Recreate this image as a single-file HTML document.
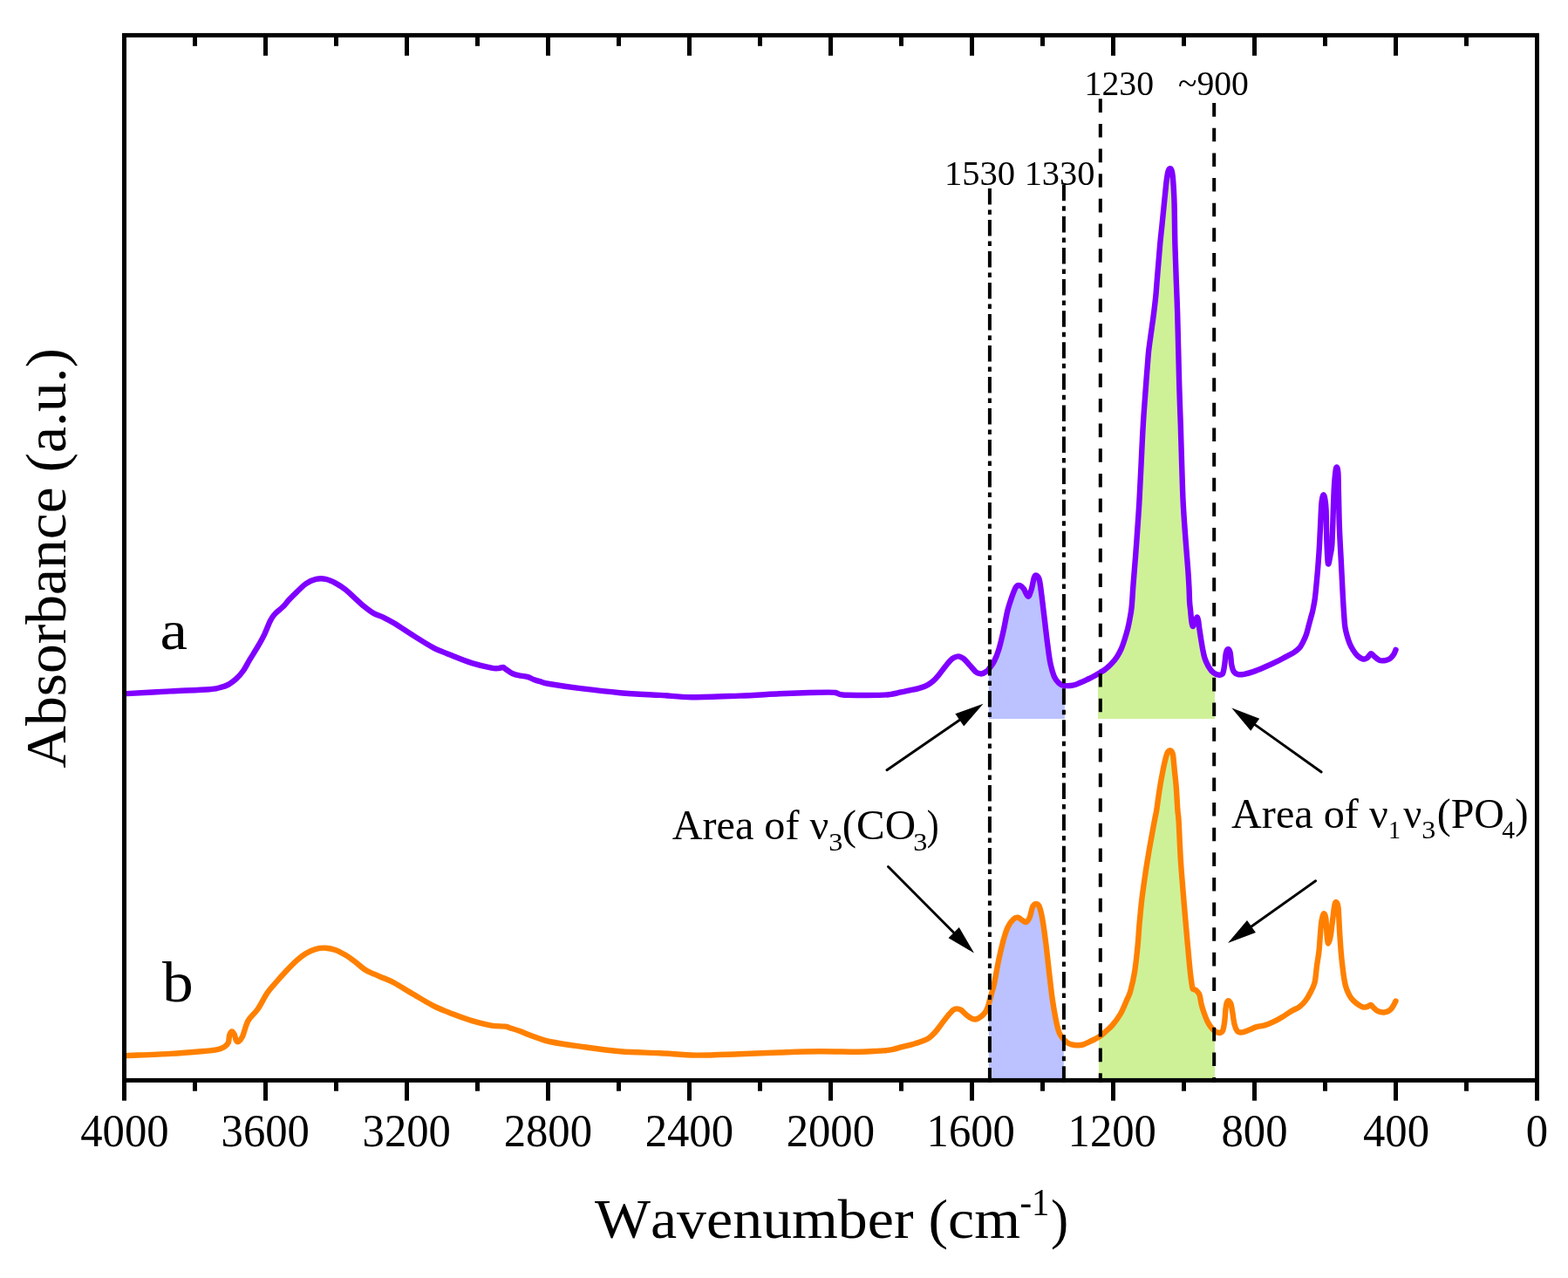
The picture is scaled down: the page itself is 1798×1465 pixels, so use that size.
<!DOCTYPE html>
<html><head><meta charset="utf-8"><title>FTIR spectra</title>
<style>
html,body{margin:0;padding:0;background:#fff;}
svg{display:block;}
text{font-family:"Liberation Serif",serif;fill:#000;font-kerning:none;}
</style></head>
<body>
<svg width="1798" height="1465" viewBox="0 0 1798 1465">
<rect width="1798" height="1465" fill="#fff"/>
<defs>
<clipPath id="cpb1"><rect x="1133.8" y="0" width="87.1" height="824"/></clipPath>
<clipPath id="cpg1"><rect x="1259" y="0" width="134" height="824"/></clipPath>
<clipPath id="cpb2"><rect x="1133.8" y="0" width="86" height="1238"/></clipPath>
<clipPath id="cpg2"><rect x="1260" y="0" width="133" height="1238"/></clipPath>
</defs>
<g stroke="none">
<path d="M145.0,795.1 C153.4,794.6 179.8,793.2 195.6,792.4 C211.4,791.6 230.8,790.9 240.0,790.2 C249.2,789.6 247.4,789.4 251.1,788.5 C254.8,787.6 258.9,786.4 262.2,784.6 C265.5,782.8 268.3,780.5 271.1,777.9 C273.9,775.3 276.3,772.7 278.9,769.0 C281.5,765.3 283.9,760.3 286.7,755.7 C289.5,751.1 292.8,746.0 295.6,741.2 C298.4,736.4 301.0,731.8 303.4,726.8 C305.8,721.8 308.1,715.1 310.1,711.2 C312.1,707.3 313.2,706.0 315.6,703.4 C318.0,700.8 321.9,698.2 324.5,695.6 C327.1,693.0 328.6,690.6 331.2,687.8 C333.8,685.0 336.8,682.0 340.1,678.9 C343.4,675.8 347.5,671.4 351.2,668.9 C354.9,666.4 358.7,664.7 362.4,663.9 C366.1,663.1 369.8,663.1 373.5,663.9 C377.2,664.6 380.9,666.4 384.6,668.4 C388.3,670.4 392.0,672.7 395.7,675.6 C399.4,678.5 403.2,682.3 406.9,685.6 C410.6,688.9 414.3,692.6 418.0,695.6 C421.7,698.6 425.4,701.4 429.1,703.4 C432.8,705.4 436.1,706.0 440.0,707.9 C443.9,709.8 446.4,711.0 452.2,714.5 C457.9,718.0 467.1,724.3 474.5,728.9 C481.9,733.5 489.3,738.5 496.7,742.3 C504.1,746.1 511.6,748.7 519.0,751.7 C526.4,754.7 533.8,757.8 541.2,760.1 C548.6,762.4 558.4,764.6 563.5,765.6 C568.6,766.6 569.8,766.1 572.0,766.0 C574.2,765.9 575.4,764.8 576.8,765.0 C578.2,765.2 578.6,766.3 580.5,767.5 C582.4,768.7 585.2,771.1 588.0,772.3 C590.8,773.5 594.0,774.0 597.0,774.6 C600.0,775.2 603.2,775.5 605.7,776.2 C608.2,776.9 609.8,778.2 612.0,779.0 C614.2,779.8 616.1,780.4 619.1,781.2 C622.1,782.0 622.2,782.7 630.0,784.0 C637.8,785.3 652.1,787.5 665.6,789.2 C679.1,790.9 696.0,792.9 711.2,794.2 C726.4,795.5 743.1,796.1 756.8,796.9 C770.5,797.7 778.1,799.1 793.3,799.2 C808.5,799.3 831.3,798.2 848.0,797.6 C864.7,797.0 880.4,795.9 893.7,795.3 C907.0,794.7 918.5,794.3 927.9,794.0 C937.3,793.7 945.0,793.6 950.0,793.6 C955.0,793.6 955.8,793.6 958.0,794.0 C960.2,794.4 960.8,795.3 963.0,795.8 C965.2,796.2 963.8,796.5 971.2,796.7 C978.7,796.9 999.6,797.0 1007.7,796.9 C1015.8,796.8 1015.7,796.7 1020.0,796.1 C1024.3,795.5 1029.0,794.3 1033.4,793.4 C1037.9,792.5 1042.8,791.6 1046.7,790.7 C1050.6,789.8 1053.9,789.0 1056.7,788.1 C1059.5,787.2 1061.2,786.6 1063.4,785.4 C1065.6,784.2 1067.9,782.7 1070.1,780.7 C1072.3,778.7 1074.5,776.1 1076.7,773.4 C1078.9,770.7 1081.2,767.5 1083.4,764.7 C1085.6,761.9 1088.2,758.6 1090.1,756.7 C1091.9,754.9 1093.0,754.3 1094.5,753.6 C1096.0,752.9 1097.5,752.4 1098.8,752.4 C1100.0,752.4 1100.9,752.9 1102.0,753.4 C1103.1,753.9 1103.7,753.8 1105.4,755.4 C1107.1,757.0 1109.9,760.2 1112.1,762.7 C1114.3,765.2 1117.1,768.6 1118.8,770.1 C1120.5,771.6 1120.9,771.4 1122.0,771.8 C1123.1,772.2 1124.2,772.6 1125.5,772.4 C1126.8,772.2 1128.2,771.5 1129.5,770.7 C1130.8,769.9 1131.8,769.5 1133.5,767.4 C1135.2,765.3 1138.0,761.9 1140.0,758.0 C1142.0,754.1 1143.7,749.8 1145.5,743.8 C1147.3,737.8 1149.3,729.2 1150.9,721.9 C1152.5,714.6 1153.8,706.1 1155.3,700.1 C1156.8,694.1 1158.1,690.5 1159.7,685.9 C1161.3,681.3 1163.5,675.3 1165.1,672.8 C1166.7,670.3 1168.0,670.7 1169.5,671.1 C1171.0,671.5 1172.4,672.9 1173.9,675.0 C1175.5,677.1 1177.3,683.5 1178.8,683.7 C1180.2,683.9 1181.4,679.6 1182.6,676.0 C1183.8,672.4 1184.9,664.5 1185.9,661.8 C1186.9,659.1 1187.6,659.2 1188.6,659.7 C1189.6,660.2 1190.9,661.1 1191.9,665.1 C1192.9,669.1 1193.6,676.1 1194.6,683.7 C1195.6,691.4 1196.8,701.9 1197.9,711.0 C1199.0,720.1 1200.1,730.1 1201.2,738.3 C1202.3,746.5 1203.1,753.9 1204.4,760.1 C1205.7,766.3 1207.2,771.6 1208.8,775.4 C1210.4,779.2 1212.5,781.4 1214.3,783.1 C1216.1,784.8 1217.1,785.4 1219.7,785.8 C1222.3,786.2 1226.9,786.2 1230.0,785.7 C1233.1,785.2 1235.5,783.9 1238.2,782.8 C1240.9,781.7 1243.7,780.4 1246.4,779.1 C1249.1,777.8 1252.1,776.4 1254.6,775.0 C1257.1,773.6 1259.5,772.1 1261.5,770.9 C1263.5,769.7 1264.8,769.2 1266.9,767.6 C1269.0,766.0 1271.9,763.6 1274.2,761.1 C1276.5,758.6 1278.9,755.8 1280.8,752.9 C1282.7,750.0 1284.2,747.3 1285.7,743.9 C1287.2,740.5 1288.6,736.2 1289.8,732.4 C1291.0,728.6 1292.1,724.8 1293.1,721.0 C1294.0,717.2 1294.8,713.6 1295.5,709.5 C1296.2,705.4 1296.9,703.0 1297.6,696.4 C1298.3,689.8 1298.8,678.6 1299.5,670.0 C1300.2,661.4 1300.8,653.6 1301.5,645.0 C1302.2,636.4 1302.7,630.1 1303.5,618.4 C1304.3,606.7 1305.6,589.2 1306.4,574.7 C1307.2,560.2 1307.9,545.7 1308.6,531.1 C1309.3,516.5 1310.0,500.2 1310.8,487.4 C1311.5,474.6 1312.5,462.7 1313.1,454.2 C1313.7,445.7 1314.0,442.3 1314.4,436.4 C1314.9,430.5 1315.3,424.6 1315.8,418.7 C1316.3,412.8 1316.6,406.9 1317.3,401.0 C1318.0,395.1 1318.9,389.1 1319.7,383.2 C1320.5,377.3 1321.4,371.4 1322.2,365.5 C1323.0,359.6 1323.9,352.2 1324.4,347.7 C1324.9,343.2 1325.0,342.6 1325.4,338.3 C1325.8,334.0 1326.2,328.0 1326.7,321.9 C1327.2,315.8 1327.8,308.2 1328.4,301.4 C1329.0,294.6 1329.5,287.8 1330.1,281.0 C1330.7,274.2 1331.4,268.2 1332.2,260.5 C1333.0,252.8 1334.0,242.5 1334.8,234.6 C1335.6,226.7 1336.4,218.3 1337.0,212.8 C1337.6,207.3 1337.9,204.7 1338.4,201.8 C1338.9,198.9 1339.2,196.9 1339.8,195.5 C1340.4,194.1 1341.2,193.3 1341.8,193.3 C1342.4,193.3 1343.1,194.1 1343.6,195.5 C1344.1,196.9 1344.4,198.9 1344.7,201.8 C1345.0,204.7 1345.3,207.3 1345.6,212.8 C1345.9,218.3 1346.3,223.2 1346.6,234.6 C1346.9,246.0 1347.0,266.4 1347.4,281.0 C1347.8,295.6 1348.3,308.7 1348.8,321.9 C1349.3,335.1 1349.8,347.0 1350.2,360.0 C1350.6,373.0 1350.9,386.1 1351.2,400.0 C1351.5,413.9 1351.9,429.1 1352.3,443.7 C1352.7,458.3 1353.3,472.8 1353.8,487.4 C1354.3,502.0 1354.6,516.5 1355.1,531.1 C1355.6,545.7 1355.9,560.2 1356.6,574.7 C1357.3,589.2 1358.6,605.9 1359.5,618.4 C1360.4,630.9 1361.3,641.1 1362.0,650.0 C1362.7,658.9 1363.1,665.3 1363.4,672.0 C1363.8,678.7 1363.8,685.4 1364.1,690.0 C1364.4,694.6 1364.7,695.9 1365.1,699.7 C1365.5,703.5 1365.9,709.7 1366.4,712.7 C1366.9,715.8 1367.4,718.0 1368.0,718.0 C1368.6,718.0 1369.2,714.8 1370.0,713.0 C1370.8,711.2 1371.8,707.7 1372.5,707.5 C1373.2,707.3 1373.8,710.0 1374.2,712.0 C1374.6,714.0 1374.6,715.8 1375.1,719.2 C1375.6,722.6 1376.4,727.9 1377.1,732.2 C1377.8,736.5 1378.5,741.4 1379.3,745.2 C1380.0,749.0 1380.5,751.7 1381.6,754.9 C1382.7,758.1 1384.5,761.9 1386.1,764.6 C1387.7,767.3 1389.4,769.6 1391.3,771.1 C1393.2,772.6 1395.5,773.4 1397.2,773.7 C1398.9,774.0 1400.5,773.6 1401.5,772.8 C1402.5,772.0 1402.5,770.9 1403.0,769.0 C1403.5,767.1 1403.8,764.8 1404.3,761.4 C1404.8,758.0 1405.2,751.2 1405.9,748.4 C1406.6,745.5 1407.4,744.4 1408.2,744.3 C1409.0,744.1 1410.0,745.7 1410.5,747.5 C1411.0,749.3 1411.2,752.7 1411.5,755.0 C1411.8,757.3 1411.6,758.9 1412.1,761.4 C1412.6,763.9 1413.4,767.8 1414.7,769.8 C1416.0,771.8 1417.9,772.6 1419.9,773.1 C1421.9,773.6 1423.9,773.3 1426.7,772.8 C1429.5,772.3 1432.8,771.4 1436.7,770.1 C1440.6,768.8 1445.5,766.7 1450.0,764.8 C1454.5,762.9 1459.5,760.6 1463.4,758.7 C1467.3,756.8 1470.1,755.2 1473.4,753.4 C1476.7,751.6 1480.6,749.9 1483.4,748.1 C1486.2,746.3 1488.2,744.9 1490.1,742.7 C1492.0,740.5 1493.5,737.4 1494.8,734.7 C1496.1,732.0 1497.1,729.7 1498.1,726.7 C1499.1,723.7 1499.9,720.0 1500.8,716.7 C1501.7,713.4 1502.7,709.7 1503.5,706.7 C1504.3,703.8 1504.8,702.7 1505.5,699.0 C1506.2,695.3 1507.2,691.4 1508.0,684.6 C1508.8,677.8 1509.8,666.9 1510.6,658.0 C1511.4,649.1 1512.0,640.3 1512.6,631.4 C1513.2,622.5 1513.5,613.7 1514.0,604.8 C1514.5,595.9 1514.8,584.4 1515.3,578.2 C1515.8,572.0 1516.6,568.5 1517.3,567.5 C1518.0,566.5 1518.8,569.1 1519.3,572.0 C1519.8,574.9 1520.3,577.2 1520.6,584.9 C1520.9,592.6 1520.9,607.9 1521.3,618.1 C1521.7,628.3 1522.2,643.0 1522.9,646.0 C1523.6,649.0 1524.8,639.5 1525.5,636.0 C1526.2,632.5 1526.8,632.2 1527.3,624.8 C1527.8,617.4 1528.2,602.6 1528.6,591.5 C1529.0,580.4 1529.4,566.9 1529.9,558.3 C1530.4,549.7 1531.0,543.8 1531.5,540.0 C1532.0,536.2 1532.5,535.2 1533.0,535.5 C1533.5,535.8 1534.1,537.1 1534.4,542.0 C1534.7,546.9 1534.7,554.4 1534.9,564.9 C1535.2,575.4 1535.4,591.5 1535.9,604.8 C1536.4,618.1 1537.2,631.4 1537.9,644.7 C1538.6,658.0 1539.3,673.8 1539.9,684.6 C1540.5,695.4 1541.1,703.9 1541.5,709.6 C1541.9,715.4 1541.9,715.9 1542.4,719.1 C1542.9,722.3 1543.7,725.5 1544.6,728.7 C1545.5,731.9 1546.7,735.4 1547.9,738.2 C1549.1,741.0 1550.3,743.2 1551.7,745.4 C1553.1,747.6 1554.7,749.9 1556.5,751.6 C1558.3,753.3 1561.1,754.8 1562.7,755.4 C1564.3,756.0 1565.0,755.3 1566.0,755.0 C1567.0,754.7 1567.4,754.5 1568.4,753.5 C1569.4,752.5 1570.9,749.8 1571.8,749.3 C1572.7,748.8 1573.3,750.0 1574.0,750.5 C1574.7,751.0 1574.8,751.5 1576.1,752.6 C1577.4,753.7 1580.0,756.1 1581.8,756.9 C1583.5,757.7 1585.1,757.4 1586.6,757.3 C1588.0,757.2 1589.3,756.9 1590.5,756.5 C1591.7,756.1 1592.5,756.0 1593.8,755.0 C1595.1,754.0 1597.0,751.9 1598.1,750.2 C1599.2,748.5 1600.1,745.8 1600.5,744.9 L1600.3,824 L142.8,824 Z" fill="#BBC2FF" clip-path="url(#cpb1)"/>
<path d="M145.0,795.1 C153.4,794.6 179.8,793.2 195.6,792.4 C211.4,791.6 230.8,790.9 240.0,790.2 C249.2,789.6 247.4,789.4 251.1,788.5 C254.8,787.6 258.9,786.4 262.2,784.6 C265.5,782.8 268.3,780.5 271.1,777.9 C273.9,775.3 276.3,772.7 278.9,769.0 C281.5,765.3 283.9,760.3 286.7,755.7 C289.5,751.1 292.8,746.0 295.6,741.2 C298.4,736.4 301.0,731.8 303.4,726.8 C305.8,721.8 308.1,715.1 310.1,711.2 C312.1,707.3 313.2,706.0 315.6,703.4 C318.0,700.8 321.9,698.2 324.5,695.6 C327.1,693.0 328.6,690.6 331.2,687.8 C333.8,685.0 336.8,682.0 340.1,678.9 C343.4,675.8 347.5,671.4 351.2,668.9 C354.9,666.4 358.7,664.7 362.4,663.9 C366.1,663.1 369.8,663.1 373.5,663.9 C377.2,664.6 380.9,666.4 384.6,668.4 C388.3,670.4 392.0,672.7 395.7,675.6 C399.4,678.5 403.2,682.3 406.9,685.6 C410.6,688.9 414.3,692.6 418.0,695.6 C421.7,698.6 425.4,701.4 429.1,703.4 C432.8,705.4 436.1,706.0 440.0,707.9 C443.9,709.8 446.4,711.0 452.2,714.5 C457.9,718.0 467.1,724.3 474.5,728.9 C481.9,733.5 489.3,738.5 496.7,742.3 C504.1,746.1 511.6,748.7 519.0,751.7 C526.4,754.7 533.8,757.8 541.2,760.1 C548.6,762.4 558.4,764.6 563.5,765.6 C568.6,766.6 569.8,766.1 572.0,766.0 C574.2,765.9 575.4,764.8 576.8,765.0 C578.2,765.2 578.6,766.3 580.5,767.5 C582.4,768.7 585.2,771.1 588.0,772.3 C590.8,773.5 594.0,774.0 597.0,774.6 C600.0,775.2 603.2,775.5 605.7,776.2 C608.2,776.9 609.8,778.2 612.0,779.0 C614.2,779.8 616.1,780.4 619.1,781.2 C622.1,782.0 622.2,782.7 630.0,784.0 C637.8,785.3 652.1,787.5 665.6,789.2 C679.1,790.9 696.0,792.9 711.2,794.2 C726.4,795.5 743.1,796.1 756.8,796.9 C770.5,797.7 778.1,799.1 793.3,799.2 C808.5,799.3 831.3,798.2 848.0,797.6 C864.7,797.0 880.4,795.9 893.7,795.3 C907.0,794.7 918.5,794.3 927.9,794.0 C937.3,793.7 945.0,793.6 950.0,793.6 C955.0,793.6 955.8,793.6 958.0,794.0 C960.2,794.4 960.8,795.3 963.0,795.8 C965.2,796.2 963.8,796.5 971.2,796.7 C978.7,796.9 999.6,797.0 1007.7,796.9 C1015.8,796.8 1015.7,796.7 1020.0,796.1 C1024.3,795.5 1029.0,794.3 1033.4,793.4 C1037.9,792.5 1042.8,791.6 1046.7,790.7 C1050.6,789.8 1053.9,789.0 1056.7,788.1 C1059.5,787.2 1061.2,786.6 1063.4,785.4 C1065.6,784.2 1067.9,782.7 1070.1,780.7 C1072.3,778.7 1074.5,776.1 1076.7,773.4 C1078.9,770.7 1081.2,767.5 1083.4,764.7 C1085.6,761.9 1088.2,758.6 1090.1,756.7 C1091.9,754.9 1093.0,754.3 1094.5,753.6 C1096.0,752.9 1097.5,752.4 1098.8,752.4 C1100.0,752.4 1100.9,752.9 1102.0,753.4 C1103.1,753.9 1103.7,753.8 1105.4,755.4 C1107.1,757.0 1109.9,760.2 1112.1,762.7 C1114.3,765.2 1117.1,768.6 1118.8,770.1 C1120.5,771.6 1120.9,771.4 1122.0,771.8 C1123.1,772.2 1124.2,772.6 1125.5,772.4 C1126.8,772.2 1128.2,771.5 1129.5,770.7 C1130.8,769.9 1131.8,769.5 1133.5,767.4 C1135.2,765.3 1138.0,761.9 1140.0,758.0 C1142.0,754.1 1143.7,749.8 1145.5,743.8 C1147.3,737.8 1149.3,729.2 1150.9,721.9 C1152.5,714.6 1153.8,706.1 1155.3,700.1 C1156.8,694.1 1158.1,690.5 1159.7,685.9 C1161.3,681.3 1163.5,675.3 1165.1,672.8 C1166.7,670.3 1168.0,670.7 1169.5,671.1 C1171.0,671.5 1172.4,672.9 1173.9,675.0 C1175.5,677.1 1177.3,683.5 1178.8,683.7 C1180.2,683.9 1181.4,679.6 1182.6,676.0 C1183.8,672.4 1184.9,664.5 1185.9,661.8 C1186.9,659.1 1187.6,659.2 1188.6,659.7 C1189.6,660.2 1190.9,661.1 1191.9,665.1 C1192.9,669.1 1193.6,676.1 1194.6,683.7 C1195.6,691.4 1196.8,701.9 1197.9,711.0 C1199.0,720.1 1200.1,730.1 1201.2,738.3 C1202.3,746.5 1203.1,753.9 1204.4,760.1 C1205.7,766.3 1207.2,771.6 1208.8,775.4 C1210.4,779.2 1212.5,781.4 1214.3,783.1 C1216.1,784.8 1217.1,785.4 1219.7,785.8 C1222.3,786.2 1226.9,786.2 1230.0,785.7 C1233.1,785.2 1235.5,783.9 1238.2,782.8 C1240.9,781.7 1243.7,780.4 1246.4,779.1 C1249.1,777.8 1252.1,776.4 1254.6,775.0 C1257.1,773.6 1259.5,772.1 1261.5,770.9 C1263.5,769.7 1264.8,769.2 1266.9,767.6 C1269.0,766.0 1271.9,763.6 1274.2,761.1 C1276.5,758.6 1278.9,755.8 1280.8,752.9 C1282.7,750.0 1284.2,747.3 1285.7,743.9 C1287.2,740.5 1288.6,736.2 1289.8,732.4 C1291.0,728.6 1292.1,724.8 1293.1,721.0 C1294.0,717.2 1294.8,713.6 1295.5,709.5 C1296.2,705.4 1296.9,703.0 1297.6,696.4 C1298.3,689.8 1298.8,678.6 1299.5,670.0 C1300.2,661.4 1300.8,653.6 1301.5,645.0 C1302.2,636.4 1302.7,630.1 1303.5,618.4 C1304.3,606.7 1305.6,589.2 1306.4,574.7 C1307.2,560.2 1307.9,545.7 1308.6,531.1 C1309.3,516.5 1310.0,500.2 1310.8,487.4 C1311.5,474.6 1312.5,462.7 1313.1,454.2 C1313.7,445.7 1314.0,442.3 1314.4,436.4 C1314.9,430.5 1315.3,424.6 1315.8,418.7 C1316.3,412.8 1316.6,406.9 1317.3,401.0 C1318.0,395.1 1318.9,389.1 1319.7,383.2 C1320.5,377.3 1321.4,371.4 1322.2,365.5 C1323.0,359.6 1323.9,352.2 1324.4,347.7 C1324.9,343.2 1325.0,342.6 1325.4,338.3 C1325.8,334.0 1326.2,328.0 1326.7,321.9 C1327.2,315.8 1327.8,308.2 1328.4,301.4 C1329.0,294.6 1329.5,287.8 1330.1,281.0 C1330.7,274.2 1331.4,268.2 1332.2,260.5 C1333.0,252.8 1334.0,242.5 1334.8,234.6 C1335.6,226.7 1336.4,218.3 1337.0,212.8 C1337.6,207.3 1337.9,204.7 1338.4,201.8 C1338.9,198.9 1339.2,196.9 1339.8,195.5 C1340.4,194.1 1341.2,193.3 1341.8,193.3 C1342.4,193.3 1343.1,194.1 1343.6,195.5 C1344.1,196.9 1344.4,198.9 1344.7,201.8 C1345.0,204.7 1345.3,207.3 1345.6,212.8 C1345.9,218.3 1346.3,223.2 1346.6,234.6 C1346.9,246.0 1347.0,266.4 1347.4,281.0 C1347.8,295.6 1348.3,308.7 1348.8,321.9 C1349.3,335.1 1349.8,347.0 1350.2,360.0 C1350.6,373.0 1350.9,386.1 1351.2,400.0 C1351.5,413.9 1351.9,429.1 1352.3,443.7 C1352.7,458.3 1353.3,472.8 1353.8,487.4 C1354.3,502.0 1354.6,516.5 1355.1,531.1 C1355.6,545.7 1355.9,560.2 1356.6,574.7 C1357.3,589.2 1358.6,605.9 1359.5,618.4 C1360.4,630.9 1361.3,641.1 1362.0,650.0 C1362.7,658.9 1363.1,665.3 1363.4,672.0 C1363.8,678.7 1363.8,685.4 1364.1,690.0 C1364.4,694.6 1364.7,695.9 1365.1,699.7 C1365.5,703.5 1365.9,709.7 1366.4,712.7 C1366.9,715.8 1367.4,718.0 1368.0,718.0 C1368.6,718.0 1369.2,714.8 1370.0,713.0 C1370.8,711.2 1371.8,707.7 1372.5,707.5 C1373.2,707.3 1373.8,710.0 1374.2,712.0 C1374.6,714.0 1374.6,715.8 1375.1,719.2 C1375.6,722.6 1376.4,727.9 1377.1,732.2 C1377.8,736.5 1378.5,741.4 1379.3,745.2 C1380.0,749.0 1380.5,751.7 1381.6,754.9 C1382.7,758.1 1384.5,761.9 1386.1,764.6 C1387.7,767.3 1389.4,769.6 1391.3,771.1 C1393.2,772.6 1395.5,773.4 1397.2,773.7 C1398.9,774.0 1400.5,773.6 1401.5,772.8 C1402.5,772.0 1402.5,770.9 1403.0,769.0 C1403.5,767.1 1403.8,764.8 1404.3,761.4 C1404.8,758.0 1405.2,751.2 1405.9,748.4 C1406.6,745.5 1407.4,744.4 1408.2,744.3 C1409.0,744.1 1410.0,745.7 1410.5,747.5 C1411.0,749.3 1411.2,752.7 1411.5,755.0 C1411.8,757.3 1411.6,758.9 1412.1,761.4 C1412.6,763.9 1413.4,767.8 1414.7,769.8 C1416.0,771.8 1417.9,772.6 1419.9,773.1 C1421.9,773.6 1423.9,773.3 1426.7,772.8 C1429.5,772.3 1432.8,771.4 1436.7,770.1 C1440.6,768.8 1445.5,766.7 1450.0,764.8 C1454.5,762.9 1459.5,760.6 1463.4,758.7 C1467.3,756.8 1470.1,755.2 1473.4,753.4 C1476.7,751.6 1480.6,749.9 1483.4,748.1 C1486.2,746.3 1488.2,744.9 1490.1,742.7 C1492.0,740.5 1493.5,737.4 1494.8,734.7 C1496.1,732.0 1497.1,729.7 1498.1,726.7 C1499.1,723.7 1499.9,720.0 1500.8,716.7 C1501.7,713.4 1502.7,709.7 1503.5,706.7 C1504.3,703.8 1504.8,702.7 1505.5,699.0 C1506.2,695.3 1507.2,691.4 1508.0,684.6 C1508.8,677.8 1509.8,666.9 1510.6,658.0 C1511.4,649.1 1512.0,640.3 1512.6,631.4 C1513.2,622.5 1513.5,613.7 1514.0,604.8 C1514.5,595.9 1514.8,584.4 1515.3,578.2 C1515.8,572.0 1516.6,568.5 1517.3,567.5 C1518.0,566.5 1518.8,569.1 1519.3,572.0 C1519.8,574.9 1520.3,577.2 1520.6,584.9 C1520.9,592.6 1520.9,607.9 1521.3,618.1 C1521.7,628.3 1522.2,643.0 1522.9,646.0 C1523.6,649.0 1524.8,639.5 1525.5,636.0 C1526.2,632.5 1526.8,632.2 1527.3,624.8 C1527.8,617.4 1528.2,602.6 1528.6,591.5 C1529.0,580.4 1529.4,566.9 1529.9,558.3 C1530.4,549.7 1531.0,543.8 1531.5,540.0 C1532.0,536.2 1532.5,535.2 1533.0,535.5 C1533.5,535.8 1534.1,537.1 1534.4,542.0 C1534.7,546.9 1534.7,554.4 1534.9,564.9 C1535.2,575.4 1535.4,591.5 1535.9,604.8 C1536.4,618.1 1537.2,631.4 1537.9,644.7 C1538.6,658.0 1539.3,673.8 1539.9,684.6 C1540.5,695.4 1541.1,703.9 1541.5,709.6 C1541.9,715.4 1541.9,715.9 1542.4,719.1 C1542.9,722.3 1543.7,725.5 1544.6,728.7 C1545.5,731.9 1546.7,735.4 1547.9,738.2 C1549.1,741.0 1550.3,743.2 1551.7,745.4 C1553.1,747.6 1554.7,749.9 1556.5,751.6 C1558.3,753.3 1561.1,754.8 1562.7,755.4 C1564.3,756.0 1565.0,755.3 1566.0,755.0 C1567.0,754.7 1567.4,754.5 1568.4,753.5 C1569.4,752.5 1570.9,749.8 1571.8,749.3 C1572.7,748.8 1573.3,750.0 1574.0,750.5 C1574.7,751.0 1574.8,751.5 1576.1,752.6 C1577.4,753.7 1580.0,756.1 1581.8,756.9 C1583.5,757.7 1585.1,757.4 1586.6,757.3 C1588.0,757.2 1589.3,756.9 1590.5,756.5 C1591.7,756.1 1592.5,756.0 1593.8,755.0 C1595.1,754.0 1597.0,751.9 1598.1,750.2 C1599.2,748.5 1600.1,745.8 1600.5,744.9 L1600.3,824 L142.8,824 Z" fill="#CEF198" clip-path="url(#cpg1)"/>
<path d="M145.0,1210.1 C153.4,1209.7 180.2,1208.8 195.6,1207.9 C211.0,1207.0 228.2,1205.4 237.3,1204.6 C246.4,1203.8 246.9,1203.5 250.2,1202.8 C253.5,1202.0 255.2,1201.3 257.1,1200.1 C259.0,1198.8 260.8,1197.6 261.8,1195.3 C262.8,1193.0 262.5,1188.7 263.2,1186.5 C263.9,1184.3 265.0,1182.5 265.9,1182.4 C266.8,1182.3 267.9,1184.2 268.7,1185.8 C269.5,1187.4 269.9,1190.9 270.7,1192.3 C271.5,1193.7 272.1,1194.8 273.4,1194.0 C274.6,1193.2 276.3,1191.8 278.2,1187.8 C280.1,1183.8 281.6,1175.3 284.5,1170.1 C287.4,1164.9 291.9,1162.2 295.6,1156.8 C299.3,1151.4 303.0,1143.3 306.7,1137.9 C310.4,1132.5 314.2,1128.8 317.9,1124.5 C321.6,1120.2 325.3,1116.2 329.0,1112.3 C332.7,1108.4 336.4,1104.5 340.1,1101.2 C343.8,1098.0 347.5,1095.0 351.2,1092.8 C354.9,1090.6 358.7,1088.8 362.4,1087.8 C366.1,1086.8 369.8,1086.5 373.5,1086.7 C377.2,1086.9 380.9,1087.6 384.6,1088.9 C388.3,1090.2 392.0,1092.3 395.7,1094.5 C399.4,1096.7 403.2,1099.5 406.9,1102.3 C410.6,1105.1 414.3,1108.8 418.0,1111.2 C421.7,1113.6 425.4,1115.0 429.1,1116.7 C432.8,1118.4 436.1,1119.5 440.0,1121.2 C443.9,1122.9 446.4,1123.6 452.2,1126.7 C457.9,1129.8 467.1,1135.7 474.5,1140.0 C481.9,1144.3 489.3,1149.1 496.7,1152.8 C504.1,1156.5 511.6,1159.4 519.0,1162.3 C526.4,1165.2 533.8,1167.9 541.2,1170.1 C548.6,1172.3 557.2,1174.5 563.5,1175.6 C569.8,1176.7 575.2,1176.1 579.1,1176.7 C583.0,1177.3 584.0,1178.1 587.0,1179.0 C590.0,1179.9 593.4,1181.0 596.9,1182.3 C600.4,1183.6 604.6,1185.5 608.0,1186.8 C611.4,1188.1 613.3,1188.8 617.0,1190.0 C620.7,1191.2 621.9,1192.4 630.0,1194.0 C638.1,1195.6 652.1,1197.7 665.6,1199.6 C679.1,1201.5 696.0,1204.0 711.2,1205.3 C726.4,1206.6 742.3,1206.5 756.8,1207.2 C771.2,1207.9 782.7,1209.4 797.9,1209.6 C813.1,1209.8 832.0,1208.8 848.0,1208.3 C864.0,1207.8 878.5,1207.0 893.7,1206.5 C908.9,1206.0 924.1,1205.4 939.3,1205.3 C954.5,1205.2 973.5,1205.9 984.9,1205.8 C996.3,1205.7 1001.9,1204.9 1007.7,1204.6 C1013.6,1204.2 1015.6,1204.4 1020.0,1203.7 C1024.4,1203.0 1029.3,1201.4 1033.9,1200.2 C1038.5,1199.0 1043.8,1197.9 1047.8,1196.7 C1051.8,1195.5 1055.3,1194.5 1058.2,1193.3 C1061.1,1192.1 1062.9,1191.4 1065.2,1189.8 C1067.5,1188.2 1069.8,1186.0 1072.1,1183.5 C1074.4,1181.0 1076.8,1177.5 1079.1,1174.5 C1081.4,1171.5 1083.7,1168.3 1086.0,1165.5 C1088.3,1162.7 1091.1,1159.3 1093.0,1157.8 C1094.9,1156.3 1095.7,1156.4 1097.2,1156.4 C1098.7,1156.4 1100.0,1156.5 1102.0,1157.8 C1104.0,1159.1 1106.7,1162.4 1109.0,1164.1 C1111.3,1165.8 1113.8,1167.6 1115.9,1168.2 C1118.0,1168.8 1119.5,1168.4 1121.5,1167.5 C1123.5,1166.6 1126.1,1164.5 1127.8,1162.7 C1129.5,1160.9 1130.8,1159.0 1131.9,1156.4 C1133.1,1153.9 1133.8,1150.6 1134.7,1147.4 C1135.6,1144.2 1136.6,1140.3 1137.5,1137.0 C1138.4,1133.7 1138.7,1133.7 1140.0,1127.6 C1141.3,1121.5 1143.5,1108.6 1145.2,1100.4 C1146.9,1092.2 1148.7,1084.7 1150.4,1078.4 C1152.1,1072.1 1153.7,1066.9 1155.6,1062.8 C1157.5,1058.7 1160.1,1055.5 1162.0,1053.7 C1163.9,1051.9 1165.5,1051.6 1167.2,1051.8 C1168.9,1052.0 1170.8,1054.1 1172.4,1055.0 C1174.0,1055.9 1175.6,1057.7 1177.0,1057.0 C1178.4,1056.3 1179.7,1054.0 1180.9,1051.1 C1182.1,1048.2 1182.9,1042.0 1184.1,1039.5 C1185.3,1037.0 1186.7,1036.2 1188.0,1036.2 C1189.3,1036.2 1190.6,1036.2 1191.9,1039.5 C1193.2,1042.8 1194.5,1048.8 1195.8,1056.3 C1197.1,1063.8 1198.4,1074.4 1199.7,1084.8 C1201.0,1095.2 1202.2,1107.8 1203.5,1118.6 C1204.8,1129.4 1205.8,1139.5 1207.4,1149.7 C1209.0,1159.9 1211.6,1173.5 1213.3,1180.0 C1215.0,1186.5 1216.2,1186.5 1217.8,1188.9 C1219.4,1191.4 1221.2,1193.3 1223.1,1194.7 C1224.9,1196.1 1226.8,1196.8 1228.9,1197.4 C1231.0,1198.0 1233.4,1198.3 1235.6,1198.3 C1237.8,1198.3 1240.1,1198.1 1242.3,1197.4 C1244.5,1196.7 1246.7,1195.3 1248.9,1194.3 C1251.1,1193.2 1253.4,1192.3 1255.6,1191.1 C1257.8,1189.9 1260.1,1188.7 1262.3,1187.1 C1264.5,1185.5 1266.8,1183.4 1269.0,1181.4 C1271.2,1179.4 1272.9,1178.3 1275.6,1175.1 C1278.3,1171.9 1282.2,1166.9 1285.0,1162.0 C1287.8,1157.1 1290.5,1149.9 1292.4,1145.6 C1294.3,1141.3 1294.9,1141.2 1296.3,1136.0 C1297.7,1130.8 1299.7,1122.9 1301.0,1114.6 C1302.3,1106.3 1303.5,1095.5 1304.4,1086.0 C1305.4,1076.5 1305.8,1066.8 1306.7,1057.3 C1307.6,1047.8 1308.4,1038.2 1309.6,1028.7 C1310.8,1019.2 1312.3,1008.9 1313.6,1000.0 C1314.9,991.1 1316.4,982.5 1317.6,975.3 C1318.8,968.1 1319.8,963.0 1320.9,956.9 C1322.0,950.8 1323.4,943.0 1324.3,938.4 C1325.2,933.8 1325.6,932.9 1326.2,929.1 C1326.8,925.3 1327.4,920.5 1328.1,915.5 C1328.8,910.5 1329.7,904.6 1330.6,899.1 C1331.5,893.6 1332.5,888.2 1333.6,882.8 C1334.7,877.3 1336.4,869.9 1337.4,866.4 C1338.4,862.9 1338.8,862.5 1339.5,861.5 C1340.2,860.5 1340.9,860.3 1341.6,860.3 C1342.3,860.3 1343.0,860.5 1343.6,861.5 C1344.2,862.5 1344.7,862.9 1345.2,866.4 C1345.7,869.9 1346.2,877.3 1346.8,882.8 C1347.3,888.2 1348.0,893.6 1348.5,899.1 C1349.0,904.6 1349.3,910.5 1349.6,915.5 C1349.9,920.5 1350.1,924.6 1350.4,929.1 C1350.8,933.6 1351.2,933.4 1351.7,942.4 C1352.2,951.4 1352.9,969.8 1353.7,983.4 C1354.5,997.0 1355.7,1010.6 1356.8,1024.3 C1357.9,1038.0 1359.1,1051.6 1360.3,1065.3 C1361.5,1079.0 1362.9,1095.3 1364.0,1106.2 C1365.1,1117.1 1366.2,1126.2 1367.0,1130.8 C1367.8,1135.4 1368.2,1133.2 1369.0,1134.0 C1369.8,1134.8 1370.8,1134.5 1371.9,1135.6 C1373.0,1136.7 1374.6,1138.0 1375.5,1140.5 C1376.4,1143.0 1376.7,1147.3 1377.5,1150.7 C1378.3,1154.1 1379.4,1157.6 1380.6,1161.0 C1381.8,1164.4 1383.2,1168.2 1384.7,1171.2 C1386.2,1174.2 1388.3,1177.0 1389.8,1178.9 C1391.3,1180.8 1392.5,1181.7 1393.9,1182.5 C1395.4,1183.3 1397.1,1184.2 1398.5,1184.0 C1399.9,1183.8 1401.1,1183.5 1402.1,1181.4 C1403.0,1179.3 1403.7,1175.3 1404.2,1171.2 C1404.8,1167.1 1405.0,1160.6 1405.4,1157.0 C1405.8,1153.4 1406.1,1151.1 1406.7,1149.5 C1407.3,1147.9 1408.1,1147.2 1408.8,1147.2 C1409.5,1147.2 1410.3,1148.7 1410.8,1149.5 C1411.3,1150.3 1411.4,1150.1 1411.8,1152.0 C1412.2,1153.9 1412.8,1157.4 1413.4,1161.0 C1414.0,1164.6 1414.6,1170.4 1415.4,1173.8 C1416.2,1177.2 1417.2,1179.8 1418.5,1181.4 C1419.8,1183.0 1420.8,1183.6 1423.1,1183.5 C1425.3,1183.4 1429.2,1181.8 1432.0,1180.8 C1434.8,1179.8 1437.0,1178.3 1440.0,1177.4 C1443.0,1176.5 1446.7,1176.4 1450.0,1175.4 C1453.3,1174.4 1456.8,1173.0 1460.1,1171.4 C1463.4,1169.9 1466.8,1168.1 1470.1,1166.1 C1473.4,1164.1 1476.8,1161.4 1480.1,1159.4 C1483.4,1157.4 1487.3,1156.1 1490.1,1154.1 C1492.9,1152.1 1494.8,1150.0 1496.8,1147.4 C1498.8,1144.8 1500.3,1142.2 1502.1,1138.7 C1503.9,1135.2 1506.2,1131.5 1507.5,1126.5 C1508.8,1121.5 1509.0,1114.6 1509.8,1108.7 C1510.6,1102.8 1511.7,1096.9 1512.4,1091.0 C1513.1,1085.1 1513.3,1079.1 1513.8,1073.2 C1514.3,1067.3 1514.8,1059.8 1515.5,1055.5 C1516.2,1051.2 1516.9,1048.1 1517.7,1047.5 C1518.5,1046.9 1519.5,1047.7 1520.2,1052.0 C1520.9,1056.3 1521.2,1068.3 1521.7,1073.2 C1522.2,1078.1 1522.5,1081.5 1523.2,1081.5 C1523.9,1081.5 1524.9,1077.5 1525.7,1073.2 C1526.5,1068.9 1527.2,1061.3 1528.0,1055.5 C1528.8,1049.7 1529.5,1042.1 1530.2,1038.5 C1530.9,1034.9 1531.4,1033.8 1532.1,1034.0 C1532.8,1034.2 1533.9,1034.9 1534.5,1040.0 C1535.1,1045.1 1535.4,1055.9 1535.9,1064.4 C1536.4,1072.9 1537.1,1083.6 1537.7,1091.0 C1538.3,1098.4 1538.8,1102.8 1539.5,1108.7 C1540.2,1114.6 1541.2,1122.1 1542.1,1126.5 C1542.9,1130.9 1543.5,1132.2 1544.6,1135.0 C1545.7,1137.8 1547.1,1141.0 1548.8,1143.4 C1550.5,1145.8 1552.4,1147.8 1554.6,1149.6 C1556.8,1151.4 1559.9,1153.4 1562.1,1154.2 C1564.2,1155.0 1565.9,1154.6 1567.5,1154.2 C1569.1,1153.8 1570.5,1151.8 1571.7,1152.0 C1573.0,1152.2 1573.6,1153.9 1575.0,1155.1 C1576.4,1156.3 1578.1,1158.3 1580.1,1159.2 C1582.1,1160.1 1585.0,1160.6 1587.1,1160.5 C1589.2,1160.4 1591.0,1159.8 1592.6,1158.8 C1594.2,1157.8 1595.4,1156.5 1596.7,1154.6 C1598.0,1152.7 1599.9,1148.7 1600.5,1147.5 L1600.2,1238 L142.8,1238 Z" fill="#BBC2FF" clip-path="url(#cpb2)"/>
<path d="M145.0,1210.1 C153.4,1209.7 180.2,1208.8 195.6,1207.9 C211.0,1207.0 228.2,1205.4 237.3,1204.6 C246.4,1203.8 246.9,1203.5 250.2,1202.8 C253.5,1202.0 255.2,1201.3 257.1,1200.1 C259.0,1198.8 260.8,1197.6 261.8,1195.3 C262.8,1193.0 262.5,1188.7 263.2,1186.5 C263.9,1184.3 265.0,1182.5 265.9,1182.4 C266.8,1182.3 267.9,1184.2 268.7,1185.8 C269.5,1187.4 269.9,1190.9 270.7,1192.3 C271.5,1193.7 272.1,1194.8 273.4,1194.0 C274.6,1193.2 276.3,1191.8 278.2,1187.8 C280.1,1183.8 281.6,1175.3 284.5,1170.1 C287.4,1164.9 291.9,1162.2 295.6,1156.8 C299.3,1151.4 303.0,1143.3 306.7,1137.9 C310.4,1132.5 314.2,1128.8 317.9,1124.5 C321.6,1120.2 325.3,1116.2 329.0,1112.3 C332.7,1108.4 336.4,1104.5 340.1,1101.2 C343.8,1098.0 347.5,1095.0 351.2,1092.8 C354.9,1090.6 358.7,1088.8 362.4,1087.8 C366.1,1086.8 369.8,1086.5 373.5,1086.7 C377.2,1086.9 380.9,1087.6 384.6,1088.9 C388.3,1090.2 392.0,1092.3 395.7,1094.5 C399.4,1096.7 403.2,1099.5 406.9,1102.3 C410.6,1105.1 414.3,1108.8 418.0,1111.2 C421.7,1113.6 425.4,1115.0 429.1,1116.7 C432.8,1118.4 436.1,1119.5 440.0,1121.2 C443.9,1122.9 446.4,1123.6 452.2,1126.7 C457.9,1129.8 467.1,1135.7 474.5,1140.0 C481.9,1144.3 489.3,1149.1 496.7,1152.8 C504.1,1156.5 511.6,1159.4 519.0,1162.3 C526.4,1165.2 533.8,1167.9 541.2,1170.1 C548.6,1172.3 557.2,1174.5 563.5,1175.6 C569.8,1176.7 575.2,1176.1 579.1,1176.7 C583.0,1177.3 584.0,1178.1 587.0,1179.0 C590.0,1179.9 593.4,1181.0 596.9,1182.3 C600.4,1183.6 604.6,1185.5 608.0,1186.8 C611.4,1188.1 613.3,1188.8 617.0,1190.0 C620.7,1191.2 621.9,1192.4 630.0,1194.0 C638.1,1195.6 652.1,1197.7 665.6,1199.6 C679.1,1201.5 696.0,1204.0 711.2,1205.3 C726.4,1206.6 742.3,1206.5 756.8,1207.2 C771.2,1207.9 782.7,1209.4 797.9,1209.6 C813.1,1209.8 832.0,1208.8 848.0,1208.3 C864.0,1207.8 878.5,1207.0 893.7,1206.5 C908.9,1206.0 924.1,1205.4 939.3,1205.3 C954.5,1205.2 973.5,1205.9 984.9,1205.8 C996.3,1205.7 1001.9,1204.9 1007.7,1204.6 C1013.6,1204.2 1015.6,1204.4 1020.0,1203.7 C1024.4,1203.0 1029.3,1201.4 1033.9,1200.2 C1038.5,1199.0 1043.8,1197.9 1047.8,1196.7 C1051.8,1195.5 1055.3,1194.5 1058.2,1193.3 C1061.1,1192.1 1062.9,1191.4 1065.2,1189.8 C1067.5,1188.2 1069.8,1186.0 1072.1,1183.5 C1074.4,1181.0 1076.8,1177.5 1079.1,1174.5 C1081.4,1171.5 1083.7,1168.3 1086.0,1165.5 C1088.3,1162.7 1091.1,1159.3 1093.0,1157.8 C1094.9,1156.3 1095.7,1156.4 1097.2,1156.4 C1098.7,1156.4 1100.0,1156.5 1102.0,1157.8 C1104.0,1159.1 1106.7,1162.4 1109.0,1164.1 C1111.3,1165.8 1113.8,1167.6 1115.9,1168.2 C1118.0,1168.8 1119.5,1168.4 1121.5,1167.5 C1123.5,1166.6 1126.1,1164.5 1127.8,1162.7 C1129.5,1160.9 1130.8,1159.0 1131.9,1156.4 C1133.1,1153.9 1133.8,1150.6 1134.7,1147.4 C1135.6,1144.2 1136.6,1140.3 1137.5,1137.0 C1138.4,1133.7 1138.7,1133.7 1140.0,1127.6 C1141.3,1121.5 1143.5,1108.6 1145.2,1100.4 C1146.9,1092.2 1148.7,1084.7 1150.4,1078.4 C1152.1,1072.1 1153.7,1066.9 1155.6,1062.8 C1157.5,1058.7 1160.1,1055.5 1162.0,1053.7 C1163.9,1051.9 1165.5,1051.6 1167.2,1051.8 C1168.9,1052.0 1170.8,1054.1 1172.4,1055.0 C1174.0,1055.9 1175.6,1057.7 1177.0,1057.0 C1178.4,1056.3 1179.7,1054.0 1180.9,1051.1 C1182.1,1048.2 1182.9,1042.0 1184.1,1039.5 C1185.3,1037.0 1186.7,1036.2 1188.0,1036.2 C1189.3,1036.2 1190.6,1036.2 1191.9,1039.5 C1193.2,1042.8 1194.5,1048.8 1195.8,1056.3 C1197.1,1063.8 1198.4,1074.4 1199.7,1084.8 C1201.0,1095.2 1202.2,1107.8 1203.5,1118.6 C1204.8,1129.4 1205.8,1139.5 1207.4,1149.7 C1209.0,1159.9 1211.6,1173.5 1213.3,1180.0 C1215.0,1186.5 1216.2,1186.5 1217.8,1188.9 C1219.4,1191.4 1221.2,1193.3 1223.1,1194.7 C1224.9,1196.1 1226.8,1196.8 1228.9,1197.4 C1231.0,1198.0 1233.4,1198.3 1235.6,1198.3 C1237.8,1198.3 1240.1,1198.1 1242.3,1197.4 C1244.5,1196.7 1246.7,1195.3 1248.9,1194.3 C1251.1,1193.2 1253.4,1192.3 1255.6,1191.1 C1257.8,1189.9 1260.1,1188.7 1262.3,1187.1 C1264.5,1185.5 1266.8,1183.4 1269.0,1181.4 C1271.2,1179.4 1272.9,1178.3 1275.6,1175.1 C1278.3,1171.9 1282.2,1166.9 1285.0,1162.0 C1287.8,1157.1 1290.5,1149.9 1292.4,1145.6 C1294.3,1141.3 1294.9,1141.2 1296.3,1136.0 C1297.7,1130.8 1299.7,1122.9 1301.0,1114.6 C1302.3,1106.3 1303.5,1095.5 1304.4,1086.0 C1305.4,1076.5 1305.8,1066.8 1306.7,1057.3 C1307.6,1047.8 1308.4,1038.2 1309.6,1028.7 C1310.8,1019.2 1312.3,1008.9 1313.6,1000.0 C1314.9,991.1 1316.4,982.5 1317.6,975.3 C1318.8,968.1 1319.8,963.0 1320.9,956.9 C1322.0,950.8 1323.4,943.0 1324.3,938.4 C1325.2,933.8 1325.6,932.9 1326.2,929.1 C1326.8,925.3 1327.4,920.5 1328.1,915.5 C1328.8,910.5 1329.7,904.6 1330.6,899.1 C1331.5,893.6 1332.5,888.2 1333.6,882.8 C1334.7,877.3 1336.4,869.9 1337.4,866.4 C1338.4,862.9 1338.8,862.5 1339.5,861.5 C1340.2,860.5 1340.9,860.3 1341.6,860.3 C1342.3,860.3 1343.0,860.5 1343.6,861.5 C1344.2,862.5 1344.7,862.9 1345.2,866.4 C1345.7,869.9 1346.2,877.3 1346.8,882.8 C1347.3,888.2 1348.0,893.6 1348.5,899.1 C1349.0,904.6 1349.3,910.5 1349.6,915.5 C1349.9,920.5 1350.1,924.6 1350.4,929.1 C1350.8,933.6 1351.2,933.4 1351.7,942.4 C1352.2,951.4 1352.9,969.8 1353.7,983.4 C1354.5,997.0 1355.7,1010.6 1356.8,1024.3 C1357.9,1038.0 1359.1,1051.6 1360.3,1065.3 C1361.5,1079.0 1362.9,1095.3 1364.0,1106.2 C1365.1,1117.1 1366.2,1126.2 1367.0,1130.8 C1367.8,1135.4 1368.2,1133.2 1369.0,1134.0 C1369.8,1134.8 1370.8,1134.5 1371.9,1135.6 C1373.0,1136.7 1374.6,1138.0 1375.5,1140.5 C1376.4,1143.0 1376.7,1147.3 1377.5,1150.7 C1378.3,1154.1 1379.4,1157.6 1380.6,1161.0 C1381.8,1164.4 1383.2,1168.2 1384.7,1171.2 C1386.2,1174.2 1388.3,1177.0 1389.8,1178.9 C1391.3,1180.8 1392.5,1181.7 1393.9,1182.5 C1395.4,1183.3 1397.1,1184.2 1398.5,1184.0 C1399.9,1183.8 1401.1,1183.5 1402.1,1181.4 C1403.0,1179.3 1403.7,1175.3 1404.2,1171.2 C1404.8,1167.1 1405.0,1160.6 1405.4,1157.0 C1405.8,1153.4 1406.1,1151.1 1406.7,1149.5 C1407.3,1147.9 1408.1,1147.2 1408.8,1147.2 C1409.5,1147.2 1410.3,1148.7 1410.8,1149.5 C1411.3,1150.3 1411.4,1150.1 1411.8,1152.0 C1412.2,1153.9 1412.8,1157.4 1413.4,1161.0 C1414.0,1164.6 1414.6,1170.4 1415.4,1173.8 C1416.2,1177.2 1417.2,1179.8 1418.5,1181.4 C1419.8,1183.0 1420.8,1183.6 1423.1,1183.5 C1425.3,1183.4 1429.2,1181.8 1432.0,1180.8 C1434.8,1179.8 1437.0,1178.3 1440.0,1177.4 C1443.0,1176.5 1446.7,1176.4 1450.0,1175.4 C1453.3,1174.4 1456.8,1173.0 1460.1,1171.4 C1463.4,1169.9 1466.8,1168.1 1470.1,1166.1 C1473.4,1164.1 1476.8,1161.4 1480.1,1159.4 C1483.4,1157.4 1487.3,1156.1 1490.1,1154.1 C1492.9,1152.1 1494.8,1150.0 1496.8,1147.4 C1498.8,1144.8 1500.3,1142.2 1502.1,1138.7 C1503.9,1135.2 1506.2,1131.5 1507.5,1126.5 C1508.8,1121.5 1509.0,1114.6 1509.8,1108.7 C1510.6,1102.8 1511.7,1096.9 1512.4,1091.0 C1513.1,1085.1 1513.3,1079.1 1513.8,1073.2 C1514.3,1067.3 1514.8,1059.8 1515.5,1055.5 C1516.2,1051.2 1516.9,1048.1 1517.7,1047.5 C1518.5,1046.9 1519.5,1047.7 1520.2,1052.0 C1520.9,1056.3 1521.2,1068.3 1521.7,1073.2 C1522.2,1078.1 1522.5,1081.5 1523.2,1081.5 C1523.9,1081.5 1524.9,1077.5 1525.7,1073.2 C1526.5,1068.9 1527.2,1061.3 1528.0,1055.5 C1528.8,1049.7 1529.5,1042.1 1530.2,1038.5 C1530.9,1034.9 1531.4,1033.8 1532.1,1034.0 C1532.8,1034.2 1533.9,1034.9 1534.5,1040.0 C1535.1,1045.1 1535.4,1055.9 1535.9,1064.4 C1536.4,1072.9 1537.1,1083.6 1537.7,1091.0 C1538.3,1098.4 1538.8,1102.8 1539.5,1108.7 C1540.2,1114.6 1541.2,1122.1 1542.1,1126.5 C1542.9,1130.9 1543.5,1132.2 1544.6,1135.0 C1545.7,1137.8 1547.1,1141.0 1548.8,1143.4 C1550.5,1145.8 1552.4,1147.8 1554.6,1149.6 C1556.8,1151.4 1559.9,1153.4 1562.1,1154.2 C1564.2,1155.0 1565.9,1154.6 1567.5,1154.2 C1569.1,1153.8 1570.5,1151.8 1571.7,1152.0 C1573.0,1152.2 1573.6,1153.9 1575.0,1155.1 C1576.4,1156.3 1578.1,1158.3 1580.1,1159.2 C1582.1,1160.1 1585.0,1160.6 1587.1,1160.5 C1589.2,1160.4 1591.0,1159.8 1592.6,1158.8 C1594.2,1157.8 1595.4,1156.5 1596.7,1154.6 C1598.0,1152.7 1599.9,1148.7 1600.5,1147.5 L1600.2,1238 L142.8,1238 Z" fill="#CEF198" clip-path="url(#cpg2)"/>
</g>
<g fill="none" stroke-width="6.4" stroke-linejoin="round" stroke-linecap="round">
<path d="M145.0,795.1 C153.4,794.6 179.8,793.2 195.6,792.4 C211.4,791.6 230.8,790.9 240.0,790.2 C249.2,789.6 247.4,789.4 251.1,788.5 C254.8,787.6 258.9,786.4 262.2,784.6 C265.5,782.8 268.3,780.5 271.1,777.9 C273.9,775.3 276.3,772.7 278.9,769.0 C281.5,765.3 283.9,760.3 286.7,755.7 C289.5,751.1 292.8,746.0 295.6,741.2 C298.4,736.4 301.0,731.8 303.4,726.8 C305.8,721.8 308.1,715.1 310.1,711.2 C312.1,707.3 313.2,706.0 315.6,703.4 C318.0,700.8 321.9,698.2 324.5,695.6 C327.1,693.0 328.6,690.6 331.2,687.8 C333.8,685.0 336.8,682.0 340.1,678.9 C343.4,675.8 347.5,671.4 351.2,668.9 C354.9,666.4 358.7,664.7 362.4,663.9 C366.1,663.1 369.8,663.1 373.5,663.9 C377.2,664.6 380.9,666.4 384.6,668.4 C388.3,670.4 392.0,672.7 395.7,675.6 C399.4,678.5 403.2,682.3 406.9,685.6 C410.6,688.9 414.3,692.6 418.0,695.6 C421.7,698.6 425.4,701.4 429.1,703.4 C432.8,705.4 436.1,706.0 440.0,707.9 C443.9,709.8 446.4,711.0 452.2,714.5 C457.9,718.0 467.1,724.3 474.5,728.9 C481.9,733.5 489.3,738.5 496.7,742.3 C504.1,746.1 511.6,748.7 519.0,751.7 C526.4,754.7 533.8,757.8 541.2,760.1 C548.6,762.4 558.4,764.6 563.5,765.6 C568.6,766.6 569.8,766.1 572.0,766.0 C574.2,765.9 575.4,764.8 576.8,765.0 C578.2,765.2 578.6,766.3 580.5,767.5 C582.4,768.7 585.2,771.1 588.0,772.3 C590.8,773.5 594.0,774.0 597.0,774.6 C600.0,775.2 603.2,775.5 605.7,776.2 C608.2,776.9 609.8,778.2 612.0,779.0 C614.2,779.8 616.1,780.4 619.1,781.2 C622.1,782.0 622.2,782.7 630.0,784.0 C637.8,785.3 652.1,787.5 665.6,789.2 C679.1,790.9 696.0,792.9 711.2,794.2 C726.4,795.5 743.1,796.1 756.8,796.9 C770.5,797.7 778.1,799.1 793.3,799.2 C808.5,799.3 831.3,798.2 848.0,797.6 C864.7,797.0 880.4,795.9 893.7,795.3 C907.0,794.7 918.5,794.3 927.9,794.0 C937.3,793.7 945.0,793.6 950.0,793.6 C955.0,793.6 955.8,793.6 958.0,794.0 C960.2,794.4 960.8,795.3 963.0,795.8 C965.2,796.2 963.8,796.5 971.2,796.7 C978.7,796.9 999.6,797.0 1007.7,796.9 C1015.8,796.8 1015.7,796.7 1020.0,796.1 C1024.3,795.5 1029.0,794.3 1033.4,793.4 C1037.9,792.5 1042.8,791.6 1046.7,790.7 C1050.6,789.8 1053.9,789.0 1056.7,788.1 C1059.5,787.2 1061.2,786.6 1063.4,785.4 C1065.6,784.2 1067.9,782.7 1070.1,780.7 C1072.3,778.7 1074.5,776.1 1076.7,773.4 C1078.9,770.7 1081.2,767.5 1083.4,764.7 C1085.6,761.9 1088.2,758.6 1090.1,756.7 C1091.9,754.9 1093.0,754.3 1094.5,753.6 C1096.0,752.9 1097.5,752.4 1098.8,752.4 C1100.0,752.4 1100.9,752.9 1102.0,753.4 C1103.1,753.9 1103.7,753.8 1105.4,755.4 C1107.1,757.0 1109.9,760.2 1112.1,762.7 C1114.3,765.2 1117.1,768.6 1118.8,770.1 C1120.5,771.6 1120.9,771.4 1122.0,771.8 C1123.1,772.2 1124.2,772.6 1125.5,772.4 C1126.8,772.2 1128.2,771.5 1129.5,770.7 C1130.8,769.9 1131.8,769.5 1133.5,767.4 C1135.2,765.3 1138.0,761.9 1140.0,758.0 C1142.0,754.1 1143.7,749.8 1145.5,743.8 C1147.3,737.8 1149.3,729.2 1150.9,721.9 C1152.5,714.6 1153.8,706.1 1155.3,700.1 C1156.8,694.1 1158.1,690.5 1159.7,685.9 C1161.3,681.3 1163.5,675.3 1165.1,672.8 C1166.7,670.3 1168.0,670.7 1169.5,671.1 C1171.0,671.5 1172.4,672.9 1173.9,675.0 C1175.5,677.1 1177.3,683.5 1178.8,683.7 C1180.2,683.9 1181.4,679.6 1182.6,676.0 C1183.8,672.4 1184.9,664.5 1185.9,661.8 C1186.9,659.1 1187.6,659.2 1188.6,659.7 C1189.6,660.2 1190.9,661.1 1191.9,665.1 C1192.9,669.1 1193.6,676.1 1194.6,683.7 C1195.6,691.4 1196.8,701.9 1197.9,711.0 C1199.0,720.1 1200.1,730.1 1201.2,738.3 C1202.3,746.5 1203.1,753.9 1204.4,760.1 C1205.7,766.3 1207.2,771.6 1208.8,775.4 C1210.4,779.2 1212.5,781.4 1214.3,783.1 C1216.1,784.8 1217.1,785.4 1219.7,785.8 C1222.3,786.2 1226.9,786.2 1230.0,785.7 C1233.1,785.2 1235.5,783.9 1238.2,782.8 C1240.9,781.7 1243.7,780.4 1246.4,779.1 C1249.1,777.8 1252.1,776.4 1254.6,775.0 C1257.1,773.6 1259.5,772.1 1261.5,770.9 C1263.5,769.7 1264.8,769.2 1266.9,767.6 C1269.0,766.0 1271.9,763.6 1274.2,761.1 C1276.5,758.6 1278.9,755.8 1280.8,752.9 C1282.7,750.0 1284.2,747.3 1285.7,743.9 C1287.2,740.5 1288.6,736.2 1289.8,732.4 C1291.0,728.6 1292.1,724.8 1293.1,721.0 C1294.0,717.2 1294.8,713.6 1295.5,709.5 C1296.2,705.4 1296.9,703.0 1297.6,696.4 C1298.3,689.8 1298.8,678.6 1299.5,670.0 C1300.2,661.4 1300.8,653.6 1301.5,645.0 C1302.2,636.4 1302.7,630.1 1303.5,618.4 C1304.3,606.7 1305.6,589.2 1306.4,574.7 C1307.2,560.2 1307.9,545.7 1308.6,531.1 C1309.3,516.5 1310.0,500.2 1310.8,487.4 C1311.5,474.6 1312.5,462.7 1313.1,454.2 C1313.7,445.7 1314.0,442.3 1314.4,436.4 C1314.9,430.5 1315.3,424.6 1315.8,418.7 C1316.3,412.8 1316.6,406.9 1317.3,401.0 C1318.0,395.1 1318.9,389.1 1319.7,383.2 C1320.5,377.3 1321.4,371.4 1322.2,365.5 C1323.0,359.6 1323.9,352.2 1324.4,347.7 C1324.9,343.2 1325.0,342.6 1325.4,338.3 C1325.8,334.0 1326.2,328.0 1326.7,321.9 C1327.2,315.8 1327.8,308.2 1328.4,301.4 C1329.0,294.6 1329.5,287.8 1330.1,281.0 C1330.7,274.2 1331.4,268.2 1332.2,260.5 C1333.0,252.8 1334.0,242.5 1334.8,234.6 C1335.6,226.7 1336.4,218.3 1337.0,212.8 C1337.6,207.3 1337.9,204.7 1338.4,201.8 C1338.9,198.9 1339.2,196.9 1339.8,195.5 C1340.4,194.1 1341.2,193.3 1341.8,193.3 C1342.4,193.3 1343.1,194.1 1343.6,195.5 C1344.1,196.9 1344.4,198.9 1344.7,201.8 C1345.0,204.7 1345.3,207.3 1345.6,212.8 C1345.9,218.3 1346.3,223.2 1346.6,234.6 C1346.9,246.0 1347.0,266.4 1347.4,281.0 C1347.8,295.6 1348.3,308.7 1348.8,321.9 C1349.3,335.1 1349.8,347.0 1350.2,360.0 C1350.6,373.0 1350.9,386.1 1351.2,400.0 C1351.5,413.9 1351.9,429.1 1352.3,443.7 C1352.7,458.3 1353.3,472.8 1353.8,487.4 C1354.3,502.0 1354.6,516.5 1355.1,531.1 C1355.6,545.7 1355.9,560.2 1356.6,574.7 C1357.3,589.2 1358.6,605.9 1359.5,618.4 C1360.4,630.9 1361.3,641.1 1362.0,650.0 C1362.7,658.9 1363.1,665.3 1363.4,672.0 C1363.8,678.7 1363.8,685.4 1364.1,690.0 C1364.4,694.6 1364.7,695.9 1365.1,699.7 C1365.5,703.5 1365.9,709.7 1366.4,712.7 C1366.9,715.8 1367.4,718.0 1368.0,718.0 C1368.6,718.0 1369.2,714.8 1370.0,713.0 C1370.8,711.2 1371.8,707.7 1372.5,707.5 C1373.2,707.3 1373.8,710.0 1374.2,712.0 C1374.6,714.0 1374.6,715.8 1375.1,719.2 C1375.6,722.6 1376.4,727.9 1377.1,732.2 C1377.8,736.5 1378.5,741.4 1379.3,745.2 C1380.0,749.0 1380.5,751.7 1381.6,754.9 C1382.7,758.1 1384.5,761.9 1386.1,764.6 C1387.7,767.3 1389.4,769.6 1391.3,771.1 C1393.2,772.6 1395.5,773.4 1397.2,773.7 C1398.9,774.0 1400.5,773.6 1401.5,772.8 C1402.5,772.0 1402.5,770.9 1403.0,769.0 C1403.5,767.1 1403.8,764.8 1404.3,761.4 C1404.8,758.0 1405.2,751.2 1405.9,748.4 C1406.6,745.5 1407.4,744.4 1408.2,744.3 C1409.0,744.1 1410.0,745.7 1410.5,747.5 C1411.0,749.3 1411.2,752.7 1411.5,755.0 C1411.8,757.3 1411.6,758.9 1412.1,761.4 C1412.6,763.9 1413.4,767.8 1414.7,769.8 C1416.0,771.8 1417.9,772.6 1419.9,773.1 C1421.9,773.6 1423.9,773.3 1426.7,772.8 C1429.5,772.3 1432.8,771.4 1436.7,770.1 C1440.6,768.8 1445.5,766.7 1450.0,764.8 C1454.5,762.9 1459.5,760.6 1463.4,758.7 C1467.3,756.8 1470.1,755.2 1473.4,753.4 C1476.7,751.6 1480.6,749.9 1483.4,748.1 C1486.2,746.3 1488.2,744.9 1490.1,742.7 C1492.0,740.5 1493.5,737.4 1494.8,734.7 C1496.1,732.0 1497.1,729.7 1498.1,726.7 C1499.1,723.7 1499.9,720.0 1500.8,716.7 C1501.7,713.4 1502.7,709.7 1503.5,706.7 C1504.3,703.8 1504.8,702.7 1505.5,699.0 C1506.2,695.3 1507.2,691.4 1508.0,684.6 C1508.8,677.8 1509.8,666.9 1510.6,658.0 C1511.4,649.1 1512.0,640.3 1512.6,631.4 C1513.2,622.5 1513.5,613.7 1514.0,604.8 C1514.5,595.9 1514.8,584.4 1515.3,578.2 C1515.8,572.0 1516.6,568.5 1517.3,567.5 C1518.0,566.5 1518.8,569.1 1519.3,572.0 C1519.8,574.9 1520.3,577.2 1520.6,584.9 C1520.9,592.6 1520.9,607.9 1521.3,618.1 C1521.7,628.3 1522.2,643.0 1522.9,646.0 C1523.6,649.0 1524.8,639.5 1525.5,636.0 C1526.2,632.5 1526.8,632.2 1527.3,624.8 C1527.8,617.4 1528.2,602.6 1528.6,591.5 C1529.0,580.4 1529.4,566.9 1529.9,558.3 C1530.4,549.7 1531.0,543.8 1531.5,540.0 C1532.0,536.2 1532.5,535.2 1533.0,535.5 C1533.5,535.8 1534.1,537.1 1534.4,542.0 C1534.7,546.9 1534.7,554.4 1534.9,564.9 C1535.2,575.4 1535.4,591.5 1535.9,604.8 C1536.4,618.1 1537.2,631.4 1537.9,644.7 C1538.6,658.0 1539.3,673.8 1539.9,684.6 C1540.5,695.4 1541.1,703.9 1541.5,709.6 C1541.9,715.4 1541.9,715.9 1542.4,719.1 C1542.9,722.3 1543.7,725.5 1544.6,728.7 C1545.5,731.9 1546.7,735.4 1547.9,738.2 C1549.1,741.0 1550.3,743.2 1551.7,745.4 C1553.1,747.6 1554.7,749.9 1556.5,751.6 C1558.3,753.3 1561.1,754.8 1562.7,755.4 C1564.3,756.0 1565.0,755.3 1566.0,755.0 C1567.0,754.7 1567.4,754.5 1568.4,753.5 C1569.4,752.5 1570.9,749.8 1571.8,749.3 C1572.7,748.8 1573.3,750.0 1574.0,750.5 C1574.7,751.0 1574.8,751.5 1576.1,752.6 C1577.4,753.7 1580.0,756.1 1581.8,756.9 C1583.5,757.7 1585.1,757.4 1586.6,757.3 C1588.0,757.2 1589.3,756.9 1590.5,756.5 C1591.7,756.1 1592.5,756.0 1593.8,755.0 C1595.1,754.0 1597.0,751.9 1598.1,750.2 C1599.2,748.5 1600.1,745.8 1600.5,744.9" stroke="#8000FF"/>
<path d="M145.0,1210.1 C153.4,1209.7 180.2,1208.8 195.6,1207.9 C211.0,1207.0 228.2,1205.4 237.3,1204.6 C246.4,1203.8 246.9,1203.5 250.2,1202.8 C253.5,1202.0 255.2,1201.3 257.1,1200.1 C259.0,1198.8 260.8,1197.6 261.8,1195.3 C262.8,1193.0 262.5,1188.7 263.2,1186.5 C263.9,1184.3 265.0,1182.5 265.9,1182.4 C266.8,1182.3 267.9,1184.2 268.7,1185.8 C269.5,1187.4 269.9,1190.9 270.7,1192.3 C271.5,1193.7 272.1,1194.8 273.4,1194.0 C274.6,1193.2 276.3,1191.8 278.2,1187.8 C280.1,1183.8 281.6,1175.3 284.5,1170.1 C287.4,1164.9 291.9,1162.2 295.6,1156.8 C299.3,1151.4 303.0,1143.3 306.7,1137.9 C310.4,1132.5 314.2,1128.8 317.9,1124.5 C321.6,1120.2 325.3,1116.2 329.0,1112.3 C332.7,1108.4 336.4,1104.5 340.1,1101.2 C343.8,1098.0 347.5,1095.0 351.2,1092.8 C354.9,1090.6 358.7,1088.8 362.4,1087.8 C366.1,1086.8 369.8,1086.5 373.5,1086.7 C377.2,1086.9 380.9,1087.6 384.6,1088.9 C388.3,1090.2 392.0,1092.3 395.7,1094.5 C399.4,1096.7 403.2,1099.5 406.9,1102.3 C410.6,1105.1 414.3,1108.8 418.0,1111.2 C421.7,1113.6 425.4,1115.0 429.1,1116.7 C432.8,1118.4 436.1,1119.5 440.0,1121.2 C443.9,1122.9 446.4,1123.6 452.2,1126.7 C457.9,1129.8 467.1,1135.7 474.5,1140.0 C481.9,1144.3 489.3,1149.1 496.7,1152.8 C504.1,1156.5 511.6,1159.4 519.0,1162.3 C526.4,1165.2 533.8,1167.9 541.2,1170.1 C548.6,1172.3 557.2,1174.5 563.5,1175.6 C569.8,1176.7 575.2,1176.1 579.1,1176.7 C583.0,1177.3 584.0,1178.1 587.0,1179.0 C590.0,1179.9 593.4,1181.0 596.9,1182.3 C600.4,1183.6 604.6,1185.5 608.0,1186.8 C611.4,1188.1 613.3,1188.8 617.0,1190.0 C620.7,1191.2 621.9,1192.4 630.0,1194.0 C638.1,1195.6 652.1,1197.7 665.6,1199.6 C679.1,1201.5 696.0,1204.0 711.2,1205.3 C726.4,1206.6 742.3,1206.5 756.8,1207.2 C771.2,1207.9 782.7,1209.4 797.9,1209.6 C813.1,1209.8 832.0,1208.8 848.0,1208.3 C864.0,1207.8 878.5,1207.0 893.7,1206.5 C908.9,1206.0 924.1,1205.4 939.3,1205.3 C954.5,1205.2 973.5,1205.9 984.9,1205.8 C996.3,1205.7 1001.9,1204.9 1007.7,1204.6 C1013.6,1204.2 1015.6,1204.4 1020.0,1203.7 C1024.4,1203.0 1029.3,1201.4 1033.9,1200.2 C1038.5,1199.0 1043.8,1197.9 1047.8,1196.7 C1051.8,1195.5 1055.3,1194.5 1058.2,1193.3 C1061.1,1192.1 1062.9,1191.4 1065.2,1189.8 C1067.5,1188.2 1069.8,1186.0 1072.1,1183.5 C1074.4,1181.0 1076.8,1177.5 1079.1,1174.5 C1081.4,1171.5 1083.7,1168.3 1086.0,1165.5 C1088.3,1162.7 1091.1,1159.3 1093.0,1157.8 C1094.9,1156.3 1095.7,1156.4 1097.2,1156.4 C1098.7,1156.4 1100.0,1156.5 1102.0,1157.8 C1104.0,1159.1 1106.7,1162.4 1109.0,1164.1 C1111.3,1165.8 1113.8,1167.6 1115.9,1168.2 C1118.0,1168.8 1119.5,1168.4 1121.5,1167.5 C1123.5,1166.6 1126.1,1164.5 1127.8,1162.7 C1129.5,1160.9 1130.8,1159.0 1131.9,1156.4 C1133.1,1153.9 1133.8,1150.6 1134.7,1147.4 C1135.6,1144.2 1136.6,1140.3 1137.5,1137.0 C1138.4,1133.7 1138.7,1133.7 1140.0,1127.6 C1141.3,1121.5 1143.5,1108.6 1145.2,1100.4 C1146.9,1092.2 1148.7,1084.7 1150.4,1078.4 C1152.1,1072.1 1153.7,1066.9 1155.6,1062.8 C1157.5,1058.7 1160.1,1055.5 1162.0,1053.7 C1163.9,1051.9 1165.5,1051.6 1167.2,1051.8 C1168.9,1052.0 1170.8,1054.1 1172.4,1055.0 C1174.0,1055.9 1175.6,1057.7 1177.0,1057.0 C1178.4,1056.3 1179.7,1054.0 1180.9,1051.1 C1182.1,1048.2 1182.9,1042.0 1184.1,1039.5 C1185.3,1037.0 1186.7,1036.2 1188.0,1036.2 C1189.3,1036.2 1190.6,1036.2 1191.9,1039.5 C1193.2,1042.8 1194.5,1048.8 1195.8,1056.3 C1197.1,1063.8 1198.4,1074.4 1199.7,1084.8 C1201.0,1095.2 1202.2,1107.8 1203.5,1118.6 C1204.8,1129.4 1205.8,1139.5 1207.4,1149.7 C1209.0,1159.9 1211.6,1173.5 1213.3,1180.0 C1215.0,1186.5 1216.2,1186.5 1217.8,1188.9 C1219.4,1191.4 1221.2,1193.3 1223.1,1194.7 C1224.9,1196.1 1226.8,1196.8 1228.9,1197.4 C1231.0,1198.0 1233.4,1198.3 1235.6,1198.3 C1237.8,1198.3 1240.1,1198.1 1242.3,1197.4 C1244.5,1196.7 1246.7,1195.3 1248.9,1194.3 C1251.1,1193.2 1253.4,1192.3 1255.6,1191.1 C1257.8,1189.9 1260.1,1188.7 1262.3,1187.1 C1264.5,1185.5 1266.8,1183.4 1269.0,1181.4 C1271.2,1179.4 1272.9,1178.3 1275.6,1175.1 C1278.3,1171.9 1282.2,1166.9 1285.0,1162.0 C1287.8,1157.1 1290.5,1149.9 1292.4,1145.6 C1294.3,1141.3 1294.9,1141.2 1296.3,1136.0 C1297.7,1130.8 1299.7,1122.9 1301.0,1114.6 C1302.3,1106.3 1303.5,1095.5 1304.4,1086.0 C1305.4,1076.5 1305.8,1066.8 1306.7,1057.3 C1307.6,1047.8 1308.4,1038.2 1309.6,1028.7 C1310.8,1019.2 1312.3,1008.9 1313.6,1000.0 C1314.9,991.1 1316.4,982.5 1317.6,975.3 C1318.8,968.1 1319.8,963.0 1320.9,956.9 C1322.0,950.8 1323.4,943.0 1324.3,938.4 C1325.2,933.8 1325.6,932.9 1326.2,929.1 C1326.8,925.3 1327.4,920.5 1328.1,915.5 C1328.8,910.5 1329.7,904.6 1330.6,899.1 C1331.5,893.6 1332.5,888.2 1333.6,882.8 C1334.7,877.3 1336.4,869.9 1337.4,866.4 C1338.4,862.9 1338.8,862.5 1339.5,861.5 C1340.2,860.5 1340.9,860.3 1341.6,860.3 C1342.3,860.3 1343.0,860.5 1343.6,861.5 C1344.2,862.5 1344.7,862.9 1345.2,866.4 C1345.7,869.9 1346.2,877.3 1346.8,882.8 C1347.3,888.2 1348.0,893.6 1348.5,899.1 C1349.0,904.6 1349.3,910.5 1349.6,915.5 C1349.9,920.5 1350.1,924.6 1350.4,929.1 C1350.8,933.6 1351.2,933.4 1351.7,942.4 C1352.2,951.4 1352.9,969.8 1353.7,983.4 C1354.5,997.0 1355.7,1010.6 1356.8,1024.3 C1357.9,1038.0 1359.1,1051.6 1360.3,1065.3 C1361.5,1079.0 1362.9,1095.3 1364.0,1106.2 C1365.1,1117.1 1366.2,1126.2 1367.0,1130.8 C1367.8,1135.4 1368.2,1133.2 1369.0,1134.0 C1369.8,1134.8 1370.8,1134.5 1371.9,1135.6 C1373.0,1136.7 1374.6,1138.0 1375.5,1140.5 C1376.4,1143.0 1376.7,1147.3 1377.5,1150.7 C1378.3,1154.1 1379.4,1157.6 1380.6,1161.0 C1381.8,1164.4 1383.2,1168.2 1384.7,1171.2 C1386.2,1174.2 1388.3,1177.0 1389.8,1178.9 C1391.3,1180.8 1392.5,1181.7 1393.9,1182.5 C1395.4,1183.3 1397.1,1184.2 1398.5,1184.0 C1399.9,1183.8 1401.1,1183.5 1402.1,1181.4 C1403.0,1179.3 1403.7,1175.3 1404.2,1171.2 C1404.8,1167.1 1405.0,1160.6 1405.4,1157.0 C1405.8,1153.4 1406.1,1151.1 1406.7,1149.5 C1407.3,1147.9 1408.1,1147.2 1408.8,1147.2 C1409.5,1147.2 1410.3,1148.7 1410.8,1149.5 C1411.3,1150.3 1411.4,1150.1 1411.8,1152.0 C1412.2,1153.9 1412.8,1157.4 1413.4,1161.0 C1414.0,1164.6 1414.6,1170.4 1415.4,1173.8 C1416.2,1177.2 1417.2,1179.8 1418.5,1181.4 C1419.8,1183.0 1420.8,1183.6 1423.1,1183.5 C1425.3,1183.4 1429.2,1181.8 1432.0,1180.8 C1434.8,1179.8 1437.0,1178.3 1440.0,1177.4 C1443.0,1176.5 1446.7,1176.4 1450.0,1175.4 C1453.3,1174.4 1456.8,1173.0 1460.1,1171.4 C1463.4,1169.9 1466.8,1168.1 1470.1,1166.1 C1473.4,1164.1 1476.8,1161.4 1480.1,1159.4 C1483.4,1157.4 1487.3,1156.1 1490.1,1154.1 C1492.9,1152.1 1494.8,1150.0 1496.8,1147.4 C1498.8,1144.8 1500.3,1142.2 1502.1,1138.7 C1503.9,1135.2 1506.2,1131.5 1507.5,1126.5 C1508.8,1121.5 1509.0,1114.6 1509.8,1108.7 C1510.6,1102.8 1511.7,1096.9 1512.4,1091.0 C1513.1,1085.1 1513.3,1079.1 1513.8,1073.2 C1514.3,1067.3 1514.8,1059.8 1515.5,1055.5 C1516.2,1051.2 1516.9,1048.1 1517.7,1047.5 C1518.5,1046.9 1519.5,1047.7 1520.2,1052.0 C1520.9,1056.3 1521.2,1068.3 1521.7,1073.2 C1522.2,1078.1 1522.5,1081.5 1523.2,1081.5 C1523.9,1081.5 1524.9,1077.5 1525.7,1073.2 C1526.5,1068.9 1527.2,1061.3 1528.0,1055.5 C1528.8,1049.7 1529.5,1042.1 1530.2,1038.5 C1530.9,1034.9 1531.4,1033.8 1532.1,1034.0 C1532.8,1034.2 1533.9,1034.9 1534.5,1040.0 C1535.1,1045.1 1535.4,1055.9 1535.9,1064.4 C1536.4,1072.9 1537.1,1083.6 1537.7,1091.0 C1538.3,1098.4 1538.8,1102.8 1539.5,1108.7 C1540.2,1114.6 1541.2,1122.1 1542.1,1126.5 C1542.9,1130.9 1543.5,1132.2 1544.6,1135.0 C1545.7,1137.8 1547.1,1141.0 1548.8,1143.4 C1550.5,1145.8 1552.4,1147.8 1554.6,1149.6 C1556.8,1151.4 1559.9,1153.4 1562.1,1154.2 C1564.2,1155.0 1565.9,1154.6 1567.5,1154.2 C1569.1,1153.8 1570.5,1151.8 1571.7,1152.0 C1573.0,1152.2 1573.6,1153.9 1575.0,1155.1 C1576.4,1156.3 1578.1,1158.3 1580.1,1159.2 C1582.1,1160.1 1585.0,1160.6 1587.1,1160.5 C1589.2,1160.4 1591.0,1159.8 1592.6,1158.8 C1594.2,1157.8 1595.4,1156.5 1596.7,1154.6 C1598.0,1152.7 1599.9,1148.7 1600.5,1147.5" stroke="#FF8000"/>
</g>
<g stroke="#000" stroke-width="4" fill="none">
<line x1="1261.8" y1="113.3" x2="1261.8" y2="1241" stroke-dasharray="15.6 13.04"/>
<line x1="1392.2" y1="118.1" x2="1392.2" y2="1241" stroke-dasharray="15.6 13.04"/>
<line x1="1134.9" y1="216" x2="1134.9" y2="1241" stroke-dasharray="18.5 6 5.5 6"/>
<line x1="1219.9" y1="211.8" x2="1219.9" y2="1241" stroke-dasharray="18.5 6 5.5 6.09"/>
</g>
<line x1="1017.0" y1="882.8" x2="1102.0" y2="824.3" stroke="#000" stroke-width="2.9" stroke-linecap="round"/><polygon points="1127.5,806.7 1105.2,832.5 1095.4,818.3" fill="#000"/><line x1="1018.5" y1="993.5" x2="1095.1" y2="1070.5" stroke="#000" stroke-width="2.9" stroke-linecap="round"/><polygon points="1117.0,1092.5 1087.6,1075.2 1099.8,1063.0" fill="#000"/><line x1="1515.2" y1="885.0" x2="1437.5" y2="829.6" stroke="#000" stroke-width="2.9" stroke-linecap="round"/><polygon points="1412.3,811.6 1444.2,823.8 1434.2,837.8" fill="#000"/><line x1="1508.6" y1="1009.8" x2="1433.3" y2="1063.2" stroke="#000" stroke-width="2.9" stroke-linecap="round"/><polygon points="1408.0,1081.1 1430.0,1055.0 1439.9,1069.0" fill="#000"/>
<g stroke="#000" stroke-width="5" fill="none">
<rect x="142.5" y="40.4" width="1620" height="1198"/>
<line x1="142.5" y1="1238" x2="142.5" y2="1261.7"/><line x1="142.5" y1="40" x2="142.5" y2="63.8"/><line x1="223.5" y1="1238" x2="223.5" y2="1250.7"/><line x1="223.5" y1="40" x2="223.5" y2="52.8"/><line x1="304.5" y1="1238" x2="304.5" y2="1261.7"/><line x1="304.5" y1="40" x2="304.5" y2="63.8"/><line x1="385.5" y1="1238" x2="385.5" y2="1250.7"/><line x1="385.5" y1="40" x2="385.5" y2="52.8"/><line x1="466.5" y1="1238" x2="466.5" y2="1261.7"/><line x1="466.5" y1="40" x2="466.5" y2="63.8"/><line x1="547.5" y1="1238" x2="547.5" y2="1250.7"/><line x1="547.5" y1="40" x2="547.5" y2="52.8"/><line x1="628.5" y1="1238" x2="628.5" y2="1261.7"/><line x1="628.5" y1="40" x2="628.5" y2="63.8"/><line x1="709.5" y1="1238" x2="709.5" y2="1250.7"/><line x1="709.5" y1="40" x2="709.5" y2="52.8"/><line x1="790.5" y1="1238" x2="790.5" y2="1261.7"/><line x1="790.5" y1="40" x2="790.5" y2="63.8"/><line x1="871.5" y1="1238" x2="871.5" y2="1250.7"/><line x1="871.5" y1="40" x2="871.5" y2="52.8"/><line x1="952.5" y1="1238" x2="952.5" y2="1261.7"/><line x1="952.5" y1="40" x2="952.5" y2="63.8"/><line x1="1033.5" y1="1238" x2="1033.5" y2="1250.7"/><line x1="1033.5" y1="40" x2="1033.5" y2="52.8"/><line x1="1114.5" y1="1238" x2="1114.5" y2="1261.7"/><line x1="1114.5" y1="40" x2="1114.5" y2="63.8"/><line x1="1195.5" y1="1238" x2="1195.5" y2="1250.7"/><line x1="1195.5" y1="40" x2="1195.5" y2="52.8"/><line x1="1276.5" y1="1238" x2="1276.5" y2="1261.7"/><line x1="1276.5" y1="40" x2="1276.5" y2="63.8"/><line x1="1357.5" y1="1238" x2="1357.5" y2="1250.7"/><line x1="1357.5" y1="40" x2="1357.5" y2="52.8"/><line x1="1438.5" y1="1238" x2="1438.5" y2="1261.7"/><line x1="1438.5" y1="40" x2="1438.5" y2="63.8"/><line x1="1519.5" y1="1238" x2="1519.5" y2="1250.7"/><line x1="1519.5" y1="40" x2="1519.5" y2="52.8"/><line x1="1600.5" y1="1238" x2="1600.5" y2="1261.7"/><line x1="1600.5" y1="40" x2="1600.5" y2="63.8"/><line x1="1681.5" y1="1238" x2="1681.5" y2="1250.7"/><line x1="1681.5" y1="40" x2="1681.5" y2="52.8"/><line x1="1762.5" y1="1238" x2="1762.5" y2="1261.7"/><line x1="1762.5" y1="40" x2="1762.5" y2="63.8"/>
</g>
<g font-size="52">
<text x="92.27" y="1313.5" textLength="101.40" lengthAdjust="spacingAndGlyphs">4000</text><text x="253.55" y="1313.5" textLength="101.40" lengthAdjust="spacingAndGlyphs">3600</text><text x="415.55" y="1313.5" textLength="101.40" lengthAdjust="spacingAndGlyphs">3200</text><text x="577.65" y="1313.5" textLength="101.40" lengthAdjust="spacingAndGlyphs">2800</text><text x="739.65" y="1313.5" textLength="101.40" lengthAdjust="spacingAndGlyphs">2400</text><text x="901.65" y="1313.5" textLength="101.40" lengthAdjust="spacingAndGlyphs">2000</text><text x="1062.54" y="1313.5" textLength="101.40" lengthAdjust="spacingAndGlyphs">1600</text><text x="1224.54" y="1313.5" textLength="101.40" lengthAdjust="spacingAndGlyphs">1200</text><text x="1400.47" y="1313.5" textLength="76.05" lengthAdjust="spacingAndGlyphs">800</text><text x="1562.95" y="1313.5" textLength="76.05" lengthAdjust="spacingAndGlyphs">400</text><text x="1749.83" y="1313.5" textLength="25.35" lengthAdjust="spacingAndGlyphs">0</text>
</g>
<text x="681.93" y="1419.40" font-size="64.0" textLength="488.13" lengthAdjust="spacingAndGlyphs">Wavenumber (cm</text>
<text x="1169.49" y="1393.00" font-size="44.0" textLength="33.96" lengthAdjust="spacingAndGlyphs">-1</text>
<text x="1204.96" y="1419.40" font-size="64.0" textLength="20.10" lengthAdjust="spacingAndGlyphs">)</text>
<text transform="rotate(-90)" x="-880.66" y="75.3" font-size="65" textLength="481.63" lengthAdjust="spacingAndGlyphs">Absorbance (a.u.)</text>
<text x="183.51" y="743.50" font-size="64.0" textLength="31.46" lengthAdjust="spacingAndGlyphs">a</text>
<text x="186.00" y="1147.50" font-size="65.0" textLength="35.72" lengthAdjust="spacingAndGlyphs">b</text>
<text x="1243.61" y="109.00" font-size="41.0" textLength="79.40" lengthAdjust="spacingAndGlyphs">1230</text>
<text x="1351.00" y="108.60" font-size="41.0" textLength="80.81" lengthAdjust="spacingAndGlyphs">~900</text>
<text x="1082.93" y="211.70" font-size="41.0" textLength="81.22" lengthAdjust="spacingAndGlyphs">1530</text>
<text x="1174.65" y="211.70" font-size="41.0" textLength="80.79" lengthAdjust="spacingAndGlyphs">1330</text>
<text x="770.73" y="962.40" font-size="48.0" textLength="179.60" lengthAdjust="spacingAndGlyphs">Area of ν</text>
<text x="950.36" y="975.20" font-size="30.0" textLength="16.10" lengthAdjust="spacingAndGlyphs">3</text>
<text x="965.75" y="962.40" font-size="48.0" textLength="84.26" lengthAdjust="spacingAndGlyphs">(CO</text>
<text x="1047.36" y="975.20" font-size="30.0" textLength="16.10" lengthAdjust="spacingAndGlyphs">3</text>
<text x="1062.66" y="962.40" font-size="48.0" textLength="13.87" lengthAdjust="spacingAndGlyphs">)</text>
<text x="1412.03" y="948.80" font-size="48.0" textLength="179.70" lengthAdjust="spacingAndGlyphs">Area of ν</text>
<text x="1592.03" y="960.50" font-size="30.0" textLength="14.06" lengthAdjust="spacingAndGlyphs">1</text>
<text x="1609.19" y="948.80" font-size="48.0" textLength="21.00" lengthAdjust="spacingAndGlyphs">ν</text>
<text x="1630.17" y="960.50" font-size="30.0" textLength="15.98" lengthAdjust="spacingAndGlyphs">3</text>
<text x="1647.70" y="948.80" font-size="48.0" textLength="77.17" lengthAdjust="spacingAndGlyphs">(PO</text>
<text x="1722.32" y="960.50" font-size="30.0" textLength="14.84" lengthAdjust="spacingAndGlyphs">4</text>
<text x="1737.22" y="948.80" font-size="48.0" textLength="15.30" lengthAdjust="spacingAndGlyphs">)</text>
</svg>
</body></html>
